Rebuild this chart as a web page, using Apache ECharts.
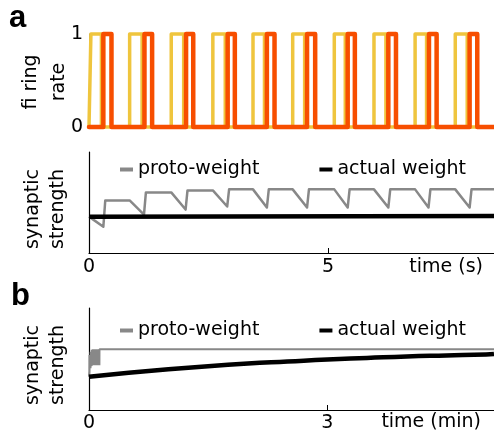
<!DOCTYPE html>
<html lang="en">
<head>
    <meta charset="UTF-8">
    <title>Proto-weight and actual weight</title>
    <script src="https://cdn.jsdelivr.net/npm/echarts@6.0.0/dist/echarts.min.js"></script>
    <style>
        body { margin: 0; background: #fff; }
        #chart { width: 494px; height: 436px; }
    </style>
</head>
<body>
    <div id="chart"></div>
    <script>
        // panel a, top: firing rate pulses (time in s)
        var yellowOn  = [0.04, 0.85, 1.72, 2.59, 3.43, 4.26, 5.13, 5.96, 6.82, 7.66];
        var yellowOff = [0.26, 1.11, 1.98, 2.85, 3.67, 4.51, 5.36, 6.21, 7.06, 7.91];
        var redOn     = [0.30, 1.16, 2.03, 2.90, 3.72, 4.56, 5.41, 6.26, 7.11, 7.96];
        var redOff    = [0.47, 1.32, 2.18, 3.05, 3.88, 4.73, 5.56, 6.42, 7.27, 8.12];

        // panel a, bottom: synaptic strength (time in s)
        var protoATime = [0, 0.30, 0.34, 0.85, 1.15, 1.19, 1.72, 2.02, 2.06, 2.59, 2.89, 2.93,
                          3.43, 3.72, 3.76, 4.26, 4.56, 4.60, 5.13, 5.41, 5.45, 5.96, 6.26, 6.30,
                          6.82, 7.10, 7.14, 7.66, 7.96, 8.00, 8.47];
        var protoAVal  = [36, 26, 52, 52, 38, 60, 60, 43, 62, 62, 46, 63,
                          63, 45, 63, 63, 45, 63, 63, 45, 63, 63, 45, 63,
                          63, 45, 63, 63, 45, 63, 63];
        var actualATime = [0, 8.47];
        var actualAVal  = [36, 36.6];

        // panel b: synaptic strength (time in min)
        var protoBTime = [0, 0.005, 0.006, 0.015, 0.019, 0.020, 0.029, 0.033, 0.034, 0.043, 0.047, 0.048,
                          0.057, 0.061, 0.062, 0.071, 0.075, 0.076, 0.085, 0.089, 0.090, 0.099, 0.103, 0.104,
                          0.113, 0.117, 0.118, 0.127, 0.131, 0.132, 0.14, 5.1];
        var protoBVal  = [32.5, 38, 54, 54, 41, 57, 57, 43, 59, 59, 44, 59.5,
                          59.5, 44, 59.5, 59.5, 44, 59.5, 59.5, 44, 59.5, 59.5, 44, 59.5,
                          59.5, 44, 59.5, 59.5, 44, 59.5, 59.5, 59.5];
        var actualBTime = [0, 0.5, 1, 1.5, 2, 2.5, 3, 3.5, 4, 4.5, 5, 5.1];
        var actualBVal  = [32.5, 36.5, 40, 43, 45.5, 47.5, 49.5, 51, 52.5, 53.5, 54.5, 55];

        var FONT = 'DejaVu Sans';

        function pulses(on, off) {
            var pts = [[0, 0]];
            for (var i = 0; i < on.length; i++) {
                pts.push([on[i], 1]);
                pts.push([off[i], 0]);
            }
            pts.push([8.47, 0]);
            return pts;
        }
        function zip(xs, ys) {
            return xs.map(function (x, i) { return [x, ys[i]]; });
        }
        // rotated two-line axis title
        function yTitle(text, x, y, lh) {
            return {
                type: 'text', x: x, y: y, rotation: Math.PI / 2,
                style: {
                    text: text, font: '19px "DejaVu Sans"', fill: '#000',
                    align: 'center', verticalAlign: 'middle', lineHeight: lh
                }
            };
        }

        var chart = echarts.init(document.getElementById('chart'));

        var labelStyle = { fontFamily: FONT, fontSize: 19, color: '#000' };

        var option = {
            animation: false,
            backgroundColor: '#fff',
            grid: [
                { left: 89, right: 0, top: 34, height: 93 },
                { left: 89, right: 0, top: 152, height: 101 },
                { left: 89, right: 0, top: 308, height: 102 }
            ],
            xAxis: [
                {
                    gridIndex: 0, type: 'value', min: 0, max: 8.47, offset: 5,
                    axisLine: { lineStyle: { color: '#777', width: 1.5 } },
                    axisTick: { show: false }, axisLabel: { show: false }, splitLine: { show: false }
                },
                {
                    gridIndex: 1, type: 'value', min: 0, max: 8.47, interval: 5,
                    axisLine: { lineStyle: { color: '#000', width: 1.2 } },
                    axisTick: { inside: true, length: 5, lineStyle: { color: '#000' } },
                    axisLabel: Object.assign({ margin: 5, showMaxLabel: false }, labelStyle),
                    splitLine: { show: false }
                },
                {
                    gridIndex: 2, type: 'value', min: 0, max: 5.1, interval: 3,
                    axisLine: { lineStyle: { color: '#000', width: 1.2 } },
                    axisTick: { inside: true, length: 5, lineStyle: { color: '#000' } },
                    axisLabel: Object.assign({ margin: 4, showMaxLabel: false }, labelStyle),
                    splitLine: { show: false }
                }
            ],
            yAxis: [
                {
                    gridIndex: 0, type: 'value', min: 0, max: 1, interval: 1,
                    axisLine: { show: true, lineStyle: { color: '#888', width: 1 } },
                    axisTick: { show: false },
                    axisLabel: Object.assign({ margin: 6 }, labelStyle),
                    splitLine: { show: false }
                },
                {
                    gridIndex: 1, type: 'value', min: 0, max: 100,
                    axisLine: { show: true, lineStyle: { color: '#000', width: 1.2 } },
                    axisTick: { show: false }, axisLabel: { show: false }, splitLine: { show: false }
                },
                {
                    gridIndex: 2, type: 'value', min: 0, max: 100,
                    axisLine: { show: true, lineStyle: { color: '#000', width: 1.2 } },
                    axisTick: { show: false }, axisLabel: { show: false }, splitLine: { show: false }
                }
            ],
            legend: [
                {
                    left: 115, top: 155, icon: 'rect', itemWidth: 13, itemHeight: 4, itemGap: 60,
                    textStyle: labelStyle, itemStyle: { borderWidth: 0 },
                    data: ['proto-weight', 'actual weight']
                },
                {
                    left: 115, top: 316, icon: 'rect', itemWidth: 13, itemHeight: 4, itemGap: 60,
                    textStyle: labelStyle, itemStyle: { borderWidth: 0 },
                    data: ['proto-weight', 'actual weight']
                }
            ],
            graphic: [
                { type: 'text', x: 9, y: 18, style: { text: 'a', font: 'bold 31px "Liberation Sans", Arial', fill: '#000', verticalAlign: 'middle' } },
                { type: 'text', x: 11, y: 296, style: { text: 'b', font: 'bold 31px "Liberation Sans", Arial', fill: '#000', verticalAlign: 'middle' } },
                yTitle('fi ring\nrate', 45, 82, 28),
                yTitle('synaptic\nstrength', 46, 209, 25),
                yTitle('synaptic\nstrength', 46, 365, 25),
                { type: 'text', x: 483, y: 267, style: { text: 'time (s)', font: '19px "DejaVu Sans"', fill: '#000', align: 'right', verticalAlign: 'middle' } },
                { type: 'text', x: 481, y: 422, style: { text: 'time (min)', font: '19px "DejaVu Sans"', fill: '#000', align: 'right', verticalAlign: 'middle' } }
            ],
            series: [
                {
                    name: 'input', type: 'line', xAxisIndex: 0, yAxisIndex: 0, step: 'end',
                    showSymbol: false, clip: false, color: '#EFC53E',
                    lineStyle: { width: 3.5, join: 'round', cap: 'round' },
                    data: pulses(yellowOn, yellowOff)
                },
                {
                    name: 'output', type: 'line', xAxisIndex: 0, yAxisIndex: 0, step: 'end',
                    showSymbol: false, clip: false, color: '#F74E00',
                    lineStyle: { width: 4.5, join: 'round', cap: 'round' },
                    data: pulses(redOn, redOff)
                },
                {
                    name: 'proto-weight', type: 'line', xAxisIndex: 1, yAxisIndex: 1,
                    showSymbol: false, color: '#888',
                    lineStyle: { width: 2.5, join: 'round' },
                    data: zip(protoATime, protoAVal)
                },
                {
                    name: 'actual weight', type: 'line', xAxisIndex: 1, yAxisIndex: 1,
                    showSymbol: false, color: '#000',
                    lineStyle: { width: 4.5 },
                    data: zip(actualATime, actualAVal)
                },
                {
                    name: 'proto-weight', type: 'line', xAxisIndex: 2, yAxisIndex: 2,
                    showSymbol: false, color: '#888',
                    lineStyle: { width: 2 },
                    data: zip(protoBTime, protoBVal)
                },
                {
                    name: 'actual weight', type: 'line', xAxisIndex: 2, yAxisIndex: 2,
                    showSymbol: false, color: '#000', smooth: true,
                    lineStyle: { width: 4.5 },
                    data: zip(actualBTime, actualBVal)
                }
            ]
        };

        chart.setOption(option);
        window.onresize = function () { chart.resize(); };
    </script>
</body>
</html>
